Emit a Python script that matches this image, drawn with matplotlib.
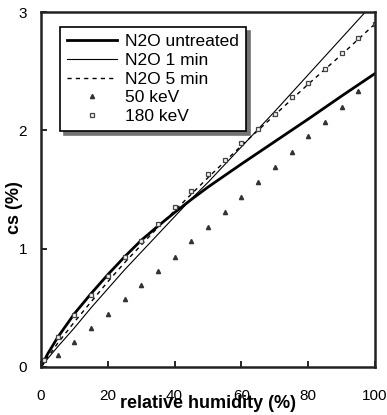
import matplotlib
matplotlib.use("Agg")
import matplotlib.pyplot as plt

plt.rcParams["font.family"] = ["Liberation Sans", "DejaVu Sans"]

# fitted curves
rh_line = [0, 2, 5, 10, 15, 20, 25, 30, 35, 40, 45, 50, 60, 70, 80, 90, 100]
untreated = [0, 0.11, 0.25, 0.45, 0.62, 0.78, 0.93, 1.07, 1.19, 1.305, 1.415,
             1.52, 1.715, 1.905, 2.095, 2.29, 2.48]
n2o_1min = [0, 0.07, 0.17, 0.33, 0.50, 0.66, 0.82, 0.97, 1.12, 1.27, 1.42,
            1.56, 1.86, 2.16, 2.47, 2.78, 3.09]
n2o_5min = [0, 0.08, 0.20, 0.38, 0.55, 0.72, 0.88, 1.03, 1.18, 1.32, 1.46,
            1.60, 1.87, 2.13, 2.39, 2.64, 2.90]

# measured points
rh_50 = [5, 10, 15, 20, 25, 30, 35, 40, 45, 50, 55, 60, 65, 70, 75, 80, 85, 90, 95]
kev_50 = [0.10, 0.21, 0.33, 0.45, 0.57, 0.69, 0.81, 0.93, 1.06, 1.18, 1.31,
          1.44, 1.56, 1.69, 1.82, 1.95, 2.07, 2.20, 2.33]
rh_180 = [1, 5, 10, 15, 20, 25, 30, 35, 40, 45, 50, 55, 60, 65, 70, 75, 80,
          85, 90, 95, 100]
kev_180 = [0.06, 0.25, 0.44, 0.61, 0.77, 0.93, 1.06, 1.21, 1.35, 1.49, 1.63,
           1.75, 1.89, 2.01, 2.14, 2.28, 2.40, 2.52, 2.65, 2.78, 2.90]

fig = plt.figure(figsize=(3.87, 4.15), dpi=100)
ax = fig.add_axes([0.106, 0.116, 0.863, 0.855])

ax.plot(rh_line, untreated, color="black", lw=2.0, label="N2O untreated")
ax.plot(rh_line, n2o_1min, color="black", lw=0.8, label="N2O 1 min")
ax.plot(rh_line, n2o_5min, color="black", lw=1.0, ls=(0, (3, 3)), label="N2O 5 min")
ax.plot(rh_50, kev_50, ls="none", marker="^", ms=3, color="#333333", label="50 keV")
ax.plot(rh_180, kev_180, ls="none", marker="s", ms=3.5, mfc="#f2f2f2", mec="#444444",
        mew=0.9, label="180 keV")

ax.set_xlim(0, 100)
ax.set_ylim(0, 3)
ax.set_xticks([0, 20, 40, 60, 80, 100])
ax.set_yticks([0, 1, 2, 3])
ax.tick_params(direction="in", length=4, width=1.2, labelsize=11)
ax.tick_params(axis="x", pad=16)
ax.tick_params(axis="y", pad=10)
for sp in ax.spines.values():
    sp.set_linewidth(1.8)
    sp.set_color("#222222")

ax.set_xlabel("relative humidity (%)", fontsize=13, fontweight="bold", labelpad=-6)
ax.set_ylabel("cs (%)", fontsize=13, fontweight="bold")
ax.yaxis.set_label_coords(-0.055, 0.45)

leg = ax.legend(loc="upper left", bbox_to_anchor=(0.057, 0.957), fontsize=12.5,
                frameon=True, fancybox=False,
                shadow={"color": "0.45", "alpha": 1, "ox": 3, "oy": -3},
                handlelength=2.9, handletextpad=0.45, labelspacing=0.2,
                borderpad=0.4, borderaxespad=0)
leg.get_frame().set_edgecolor("black")
leg.get_frame().set_linewidth(1.2)

fig.savefig("out.png", dpi=100)
